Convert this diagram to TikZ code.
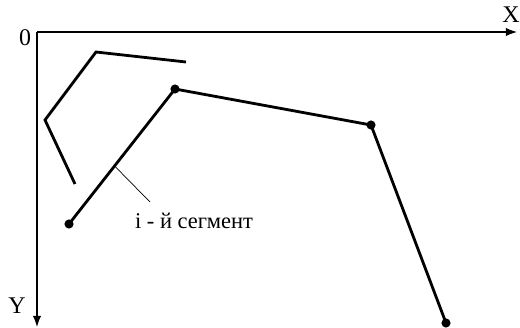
\documentclass[tikz,border=0pt]{standalone}
\usepackage{fontspec}
\setmainfont{Liberation Serif}
\usetikzlibrary{arrows.meta}
\begin{document}
\begin{tikzpicture}[
    x=0.025cm, y=-0.025cm,
    axis/.style={-{Latex[length=8pt,width=6pt]}, line width=0.8pt},
    seg/.style={line width=2pt, line join=miter},
    dot/.style={circle, fill=black, inner sep=0pt, minimum size=6.5pt},
    lbl/.style={font=\fontsize{17}{19}\selectfont, inner sep=0pt},
]
\useasboundingbox (0,0) rectangle (520,328);
% axes
\coordinate (o) at (37,32);
\coordinate (xend) at (517,32);
\coordinate (yend) at (37,327);
\draw[axis] (o) -- (xend);
\draw[axis] (o) -- (yend);
\node[lbl] (zero) at (25,38) {0};
\node[lbl] (xl)   at (511,15) {X};
\node[lbl] (yl)   at (17,306) {Y};
% previous position
\draw[seg] (75,184) -- (45,120) -- (96,52) -- (186,62);
% current position
\node[dot] (p1) at (69,224) {};
\node[dot] (p2) at (175,89) {};
\node[dot] (p3) at (371,125) {};
\node[dot] (p4) at (446,323) {};
\draw[seg] (p1.center) -- coordinate[pos=0.43] (mid) (p2.center)
           -- (p3.center) -- (p4.center);
% leader
\node[font=\fontsize{16}{18}\selectfont, inner sep=0pt] (seglbl) at (194,221) {і - й сегмент};
\coordinate (lead) at (150,202);
\draw[line width=0.5pt] (mid) -- (lead);
\end{tikzpicture}
\end{document}
